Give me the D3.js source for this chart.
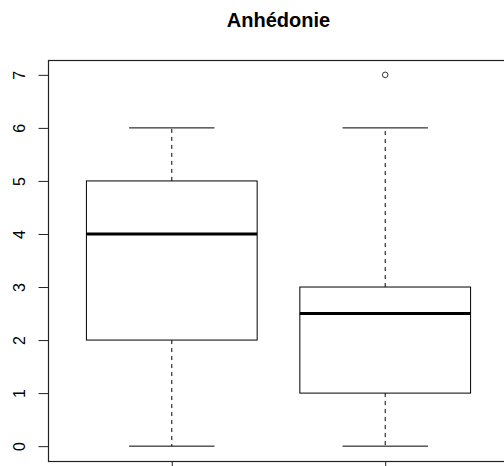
<!DOCTYPE html>
<html>
<head>
<meta charset="utf-8">
<script src="https://cdn.jsdelivr.net/npm/d3@7"></script>
<style>
  body { margin: 0; background: #fff; }
  svg { display: block; }
  text { font-family: "Liberation Sans", Arial, sans-serif; fill: #000; }
</style>
</head>
<body>
<div class="chart"></div>
<script>
// Boxplot "Anhédonie" - two groups, R base style.

var groups = [1, 2];
var mins = [0, 0];
var q1s = [2, 1];
var medians = [4, 2.5];
var q3s = [5, 3];
var maxs = [6, 6];
var outliers = [[], [7]];
var yTicks = [0, 1, 2, 3, 4, 5, 6, 7];

var width = 504,
	height = 466,
	plot = {left: 48, right: 509, top: 60, bottom: 461},
	svg = d3.select(".chart")
		.append("svg")
		.attr("width", width)
		.attr("height", height);

var x = d3.scaleLinear().domain([0.42, 2.58]).range([plot.left, plot.right]),
	y = d3.scaleLinear().domain([-0.28, 7.28]).range([plot.bottom, plot.top]);

var boxHalf = 0.4, capHalf = 0.2;

svg.append("text")
	.attr("x", (plot.left + plot.right) / 2)
	.attr("y", 27)
	.style("text-anchor", "middle")
	.style("font-weight", "bold")
	.style("font-size", "20px")
	.text("Anhédonie");

// frame
svg.append("rect")
	.attr("x", plot.left + 0.5)
	.attr("y", plot.top + 0.5)
	.attr("width", plot.right - plot.left)
	.attr("height", plot.bottom - plot.top)
	.attr("fill", "none")
	.attr("stroke", "#222")
	.attr("stroke-width", 1.2);

// y axis
var yAxis = svg.append("g")
	.attr("transform", "translate(" + (plot.left + 0.5) + ",0)")
	.call(d3.axisLeft(y).tickValues(yTicks).tickSize(10).tickFormat(d3.format("d")));
yAxis.select(".domain").remove();
yAxis.selectAll(".tick line").attr("stroke", "#222");
yAxis.selectAll(".tick text")
	.attr("x", null).attr("dy", null)
	.attr("transform", "translate(-23.5,0) rotate(-90)")
	.attr("text-anchor", "middle")
	.style("font-size", "16px")
	.style("font-family", "'Liberation Sans', Arial, sans-serif")
	.attr("fill", "#000");

// x axis ticks (labels cut off below)
var xAxis = svg.append("g")
	.attr("transform", "translate(0," + (plot.bottom + 0.5) + ")")
	.call(d3.axisBottom(x).tickValues(groups).tickSize(10).tickFormat(""));
xAxis.select(".domain").remove();
xAxis.selectAll(".tick line").attr("stroke", "#222");

var data = groups.map(function(g, i) {
	return {g: g, min: mins[i], q1: q1s[i], med: medians[i], q3: q3s[i], max: maxs[i], out: outliers[i]};
});

var box = svg.selectAll(".box")
	.data(data)
	.enter().append("g")
	.attr("class", "box");

// whiskers
box.append("line")
	.attr("x1", function(d) { return x(d.g); })
	.attr("x2", function(d) { return x(d.g); })
	.attr("y1", function(d) { return y(d.q3); })
	.attr("y2", function(d) { return y(d.max); })
	.attr("stroke", "#000").attr("stroke-dasharray", "4,4");
box.append("line")
	.attr("x1", function(d) { return x(d.g); })
	.attr("x2", function(d) { return x(d.g); })
	.attr("y1", function(d) { return y(d.q1); })
	.attr("y2", function(d) { return y(d.min); })
	.attr("stroke", "#000").attr("stroke-dasharray", "4,4");

// caps
["min", "max"].forEach(function(k) {
	box.append("line")
		.attr("x1", function(d) { return x(d.g - capHalf); })
		.attr("x2", function(d) { return x(d.g + capHalf); })
		.attr("y1", function(d) { return y(d[k]); })
		.attr("y2", function(d) { return y(d[k]); })
		.attr("stroke", "#000");
});

box.append("rect")
	.attr("x", function(d) { return x(d.g - boxHalf); })
	.attr("y", function(d) { return y(d.q3); })
	.attr("width", function(d) { return x(d.g + boxHalf) - x(d.g - boxHalf); })
	.attr("height", function(d) { return y(d.q1) - y(d.q3); })
	.attr("fill", "#fff")
	.attr("stroke", "#000");

box.append("line")
	.attr("x1", function(d) { return x(d.g - boxHalf); })
	.attr("x2", function(d) { return x(d.g + boxHalf); })
	.attr("y1", function(d) { return y(d.med); })
	.attr("y2", function(d) { return y(d.med); })
	.attr("stroke", "#000")
	.attr("stroke-width", 3);

box.selectAll(".out")
	.data(function(d) { return d.out.map(function(v) { return {g: d.g, v: v}; }); })
	.enter().append("circle")
	.attr("class", "out")
	.attr("cx", function(d) { return x(d.g); })
	.attr("cy", function(d) { return y(d.v); })
	.attr("r", 2.8)
	.attr("fill", "none")
	.attr("stroke", "#333");
</script>
</body>
</html>
